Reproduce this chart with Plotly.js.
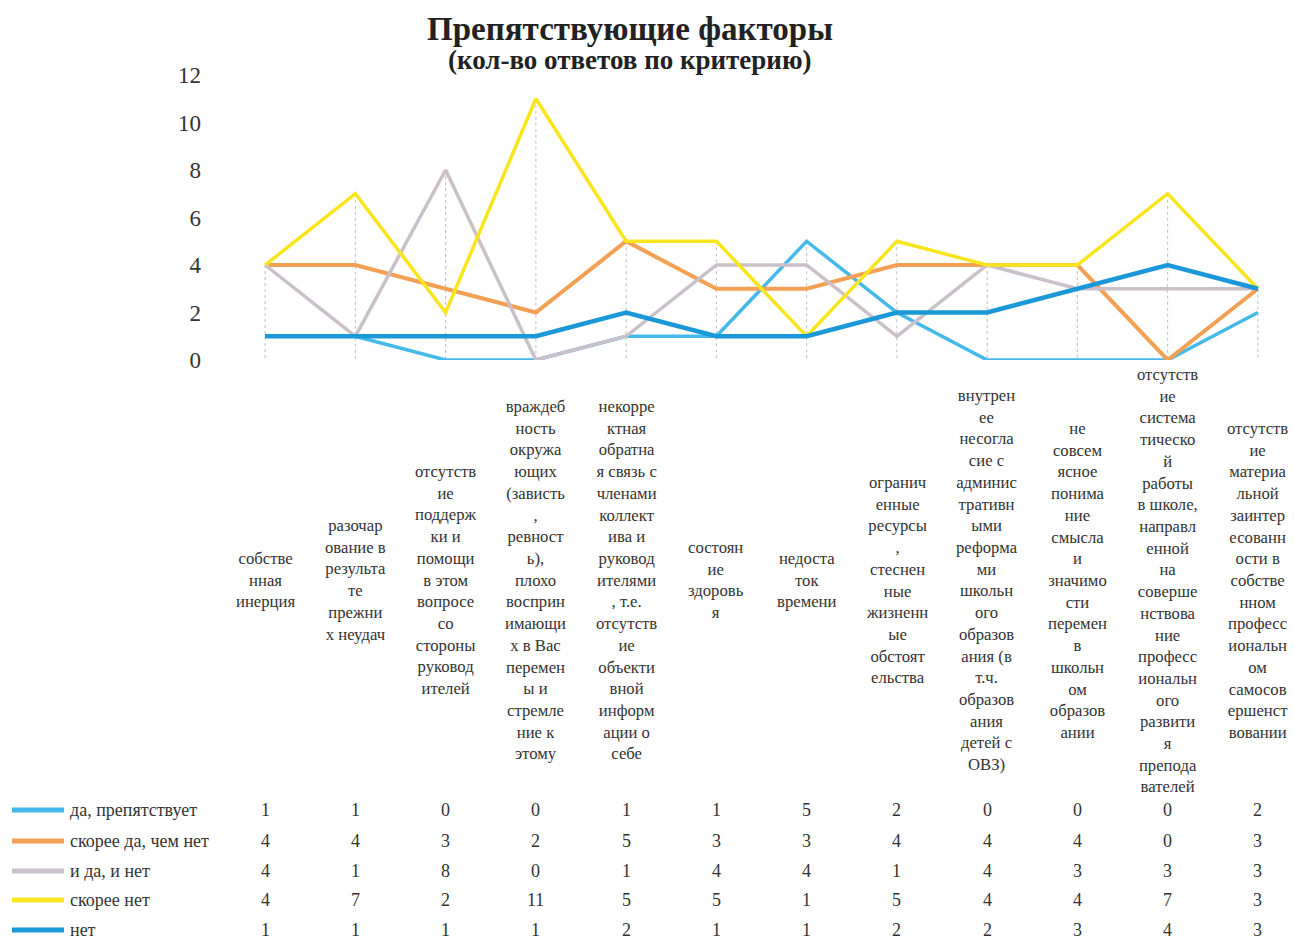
<!DOCTYPE html>
<html>
<head>
<meta charset="utf-8">
<script src="https://cdn.plot.ly/plotly-3.0.1.min.js"></script>
<style>html,body{margin:0;padding:0;background:#fff;}#chart{width:1294px;height:940px;}</style>
</head>
<body>
<div id="chart"></div>
<script>
// ---- data ----
const categories = [
  "собстве<br>нная<br>инерция",
  "разочар<br>ование в<br>результа<br>те<br>прежни<br>х неудач",
  "отсутств<br>ие<br>поддерж<br>ки и<br>помощи<br>в этом<br>вопросе<br>со<br>стороны<br>руковод<br>ителей",
  "враждеб<br>ность<br>окружа<br>ющих<br>(зависть<br>,<br>ревност<br>ь),<br>плохо<br>восприн<br>имающи<br>х в Вас<br>перемен<br>ы и<br>стремле<br>ние к<br>этому",
  "некорре<br>ктная<br>обратна<br>я связь с<br>членами<br>коллект<br>ива и<br>руковод<br>ителями<br>, т.е.<br>отсутств<br>ие<br>объекти<br>вной<br>информ<br>ации о<br>себе",
  "состоян<br>ие<br>здоровь<br>я",
  "недоста<br>ток<br>времени",
  "огранич<br>енные<br>ресурсы<br>,<br>стеснен<br>ные<br>жизненн<br>ые<br>обстоят<br>ельства",
  "внутрен<br>ее<br>несогла<br>сие с<br>админис<br>тративн<br>ыми<br>реформа<br>ми<br>школьн<br>ого<br>образов<br>ания (в<br>т.ч.<br>образов<br>ания<br>детей с<br>ОВЗ)",
  "не<br>совсем<br>ясное<br>понима<br>ние<br>смысла<br>и<br>значимо<br>сти<br>перемен<br>в<br>школьн<br>ом<br>образов<br>ании",
  "отсутств<br>ие<br>система<br>тическо<br>й<br>работы<br>в школе,<br>направл<br>енной<br>на<br>соверше<br>нствова<br>ние<br>професс<br>иональн<br>ого<br>развити<br>я<br>препода<br>вателей",
  "отсутств<br>ие<br>материа<br>льной<br>заинтер<br>есованн<br>ости в<br>собстве<br>нном<br>професс<br>иональн<br>ом<br>самосов<br>ершенст<br>вовании"
];
const seriesNames = ["да, препятствует", "скорее да, чем нет", "и да, и нет", "скорее нет", "нет"];
const daPrepyatstvuet = [1, 1, 0, 0, 1, 1, 5, 2, 0, 0, 0, 2];
const skoreeDa        = [4, 4, 3, 2, 5, 3, 3, 4, 4, 4, 0, 3];
const iDaINet         = [4, 1, 8, 0, 1, 4, 4, 1, 4, 3, 3, 3];
const skoreeNet       = [4, 7, 2, 11, 5, 5, 1, 5, 4, 4, 7, 3];
const net             = [1, 1, 1, 1, 2, 1, 1, 2, 2, 3, 4, 3];
const yTicks = [0, 2, 4, 6, 8, 10, 12];

// ---- styles ----
const series = [daPrepyatstvuet, skoreeDa, iDaINet, skoreeNet, net];
const colors = ["#45b9ea", "#f2a154", "#c9c0c9", "#f9e51e", "#1b98d8"];
const widths = [3.5, 4, 3.5, 3.5, 4.5];
const serif = "Liberation Serif, Times New Roman, serif";

// plot geometry (pixels)
const W = 1294, H = 940;
const L = 220, T = 75, B = 580;
const plotBottomPx = H - B;          // 360
const plotH = H - T - B;             // 285
const paperY = px => (plotBottomPx - px) / plotH;
const paperX = px => (px - L) / (W - L);

const idx = categories.map((_, i) => i);
const traces = [];

// drop lines from the highest value to the axis
const dx = [], dy = [];
idx.forEach(i => {
  const m = Math.max(...series.map(s => s[i]));
  dx.push(i, i, null); dy.push(m, 0, null);
});
traces.push({x: dx, y: dy, mode: "lines", line: {color: "#bdbdbd", width: 1, dash: "dot"},
  hoverinfo: "skip", showlegend: false});

series.forEach((s, k) => {
  traces.push({x: idx, y: s, name: seriesNames[k], mode: "lines",
    line: {color: colors[k], width: widths[k]}, showlegend: false, cliponaxis: false});
});

const annotations = [];
const shapes = [];
// subtitle
annotations.push({text: "<b>(кол-во ответов по критерию)</b>", xref: "paper", yref: "paper",
  x: paperX(630), y: paperY(60), xanchor: "center", yanchor: "middle", showarrow: false,
  font: {family: serif, size: 27, color: "#222"}});
// category labels
categories.forEach((c, i) => {
  annotations.push({text: c, x: i, y: paperY(580), xref: "x", yref: "paper",
    xanchor: "center", yanchor: "middle", showarrow: false, align: "center",
    font: {family: serif, size: 16.7, color: "#333"}});
});
// data table with legend keys
const rowPx = [810, 841, 871, 900, 930];
series.forEach((s, k) => {
  const yy = paperY(rowPx[k]);
  shapes.push({type: "line", xref: "paper", yref: "paper", x0: paperX(12), x1: paperX(64),
    y0: yy, y1: yy, line: {color: colors[k], width: 5}});
  annotations.push({text: seriesNames[k], xref: "paper", yref: "paper", x: paperX(68), y: yy,
    xanchor: "left", yanchor: "middle", showarrow: false,
    font: {family: serif, size: 18, color: "#333"}});
  s.forEach((v, i) => {
    annotations.push({text: String(v), x: i, y: yy, xref: "x", yref: "paper",
      xanchor: "center", yanchor: "middle", showarrow: false,
      font: {family: serif, size: 18, color: "#333"}});
  });
});

const layout = {
  width: W, height: H,
  margin: {l: L, r: 0, t: T, b: B, pad: 0},
  paper_bgcolor: "#fff", plot_bgcolor: "#fff",
  title: {text: "<b>Препятствующие факторы</b>", x: 630 / W, xanchor: "center",
    y: 1 - 28 / H, yanchor: "middle", font: {family: serif, size: 33, color: "#222"}},
  xaxis: {range: [-0.5, 11.4], showgrid: false, zeroline: false, showline: false,
    showticklabels: false, ticks: "", fixedrange: true},
  yaxis: {range: [0, 12], tickvals: yTicks, ticktext: yTicks.map(String),
    showgrid: false, zeroline: false, showline: false, ticks: "",
    ticklabelstandoff: 18, tickfont: {family: serif, size: 23, color: "#333"}},
  annotations: annotations,
  shapes: shapes,
  showlegend: false
};

Plotly.newPlot("chart", traces, layout, {displayModeBar: false, staticPlot: true});
</script>
</body>
</html>
